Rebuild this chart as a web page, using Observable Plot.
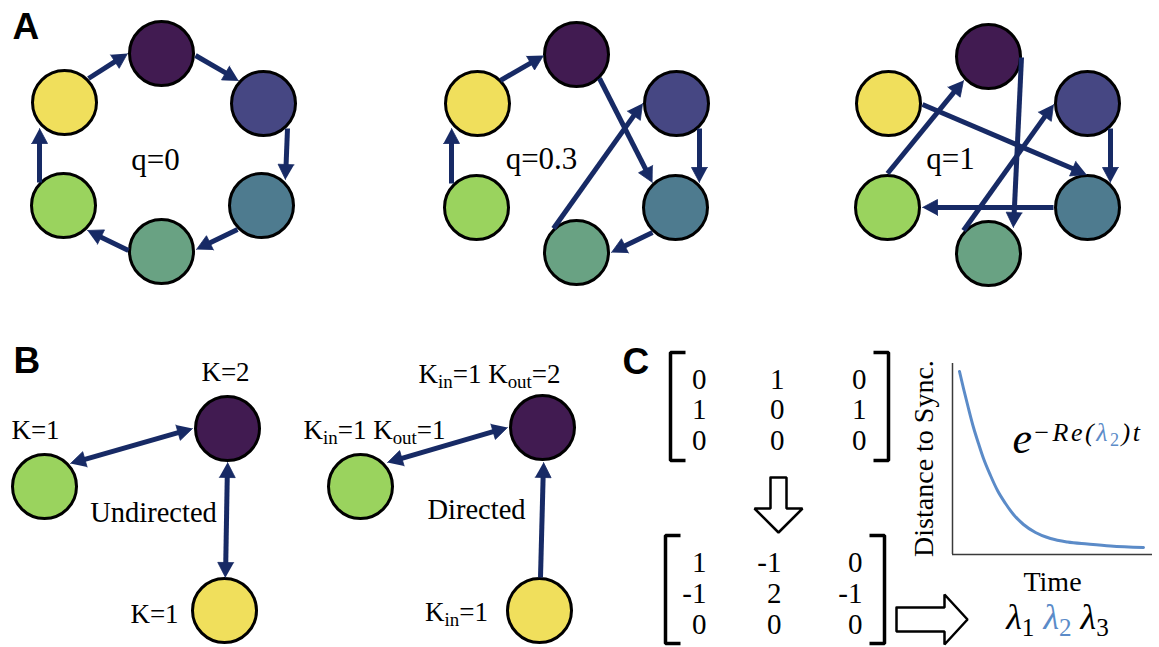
<!DOCTYPE html>
<html>
<head>
<meta charset="utf-8">
<script src="https://cdn.jsdelivr.net/npm/d3@7"></script>
<script src="https://cdn.jsdelivr.net/npm/@observablehq/plot@0.6"></script>
<style>
  html, body { margin: 0; padding: 0; background: #fff; }
  #fig { position: relative; width: 1159px; height: 647px; overflow: hidden; }
  #fig > svg { position: absolute; left: 0; top: 0; }
</style>
</head>
<body>
<div id="fig"></div>
<script>
// ---------- palette ----------
const nodeColors = ["#411b51", "#464783", "#4e7b8f", "#69a283", "#9ad35e", "#f0df5c"];
const linkColor = "#172a65";
const accentBlue = "#5b8bc8";

// ---------- panel A: six-node rings at three rewiring levels ----------
const ringLabels = ["q=0", "q=0.3", "q=1"];
const ringLabelX = [155, 541, 950];
const ringLabelY = [169, 168, 168];
const ringNodeX = [
  [161, 263, 261, 161, 63, 64],
  [576, 676, 675, 576, 476, 477],
  [988, 1087, 1087, 988, 887, 888]
];
const ringNodeY = [
  [53, 103, 205, 251, 205, 102],
  [54, 103, 207, 252, 207, 103],
  [56, 103, 207, 253, 207, 103]
];
// directed links per ring: [from, to, x1, y1, x2, y2] (tail point, tip point)
const ringLinks = [
  [[5, 0, 88, 78, 127, 53], [0, 1, 195, 55, 238, 80], [1, 2, 287, 128, 285, 179],
   [2, 3, 237, 229, 196, 249], [3, 4, 128, 250, 87, 230], [4, 5, 39, 182, 39, 128]],
  [[5, 0, 500, 80, 543, 55], [0, 2, 599, 78, 652, 182], [1, 2, 699, 128, 699, 182],
   [2, 3, 652, 232, 611, 252], [3, 1, 553, 228, 642, 103], [4, 5, 451, 183, 451, 128]],
  [[5, 2, 922, 104, 1086, 174], [4, 0, 887, 173, 963, 80], [0, 3, 1021, 57, 1013, 227],
   [1, 2, 1110, 128, 1110, 182], [2, 4, 1053, 207, 922, 207], [3, 1, 963, 230, 1053, 104]]
];

// ---------- panel B: degree examples ----------
const degreeNodeColor = [4, 0, 5, 4, 0, 5];
const degreeNodeX = [44, 227, 224, 360, 542, 539];
const degreeNodeY = [486, 428, 610, 486, 427, 610];
// [x1, y1, x2, y2, headAtBothEnds]
const degreeLinks = [
  [70, 463, 192, 428, true],
  [227, 462, 225, 577, true],
  [387, 462, 507, 427, true],
  [540, 577, 543, 462, false]
];
const degreeLabels = ["K=1", "K=2", "K=1", "K_{in}=1 K_{out}=2", "K_{in}=1 K_{out}=1", "K_{in}=1"];
const degreeLabelX = [35, 225, 154, 489, 374, 456];
const degreeLabelY = [438, 380, 622, 382, 438, 620];
const graphKinds = ["Undirected", "Directed"];
const graphKindX = [153, 476];
const graphKindY = [521, 518];

// ---------- panel C: adjacency -> Laplacian -> eigenvalues ----------
const adjacency = [[0, 1, 0], [1, 0, 1], [0, 0, 0]];
const laplacian = [[1, -1, 0], [-1, 2, -1], [0, 0, 0]];
const matrixColRight = [[706, 784, 866], [706, 781, 862]];
const matrixRowBase = [[388, 418, 449], [571, 602, 633]];
// bracket frames: [left, right, top, bottom]
const matrixFrames = [[670, 888, 352, 460], [665, 884, 535, 643]];

// decay curve: time vs distance to synchrony
const decayTime = [7, 11, 16, 21, 26, 31, 38, 45, 53, 61, 71, 83, 98, 115, 135, 158, 191];
const decayDist = [183, 166, 146, 127, 111, 96, 79, 64, 51, 40, 30, 22, 16, 12.5, 10.5, 8.5, 7];

const panelLetters = ["A", "B", "C"];
const panelLetterX = [12, 13, 622];
const panelLetterY = [38, 372, 373];

// ---------- derived tables ----------
const nodes = [];
ringNodeX.forEach((xs, p) => xs.forEach((x, i) => nodes.push({x, y: ringNodeY[p][i], color: nodeColors[i]})));
degreeNodeX.forEach((x, i) => nodes.push({x, y: degreeNodeY[i], color: nodeColors[degreeNodeColor[i]]}));

const links = [];
ringLinks.forEach((ring, p) => ring.forEach(([from, to, x1, y1, x2, y2]) =>
  links.push({id: `r${p}-${from}-${to}`, x1, y1, x2, y2, both: false})));
degreeLinks.forEach(([x1, y1, x2, y2, both], i) => links.push({id: `d${i}`, x1, y1, x2, y2, both}));

const headLen = 15, headHalf = 8;
const shafts = [], heads = [];
for (const e of links) {
  const dx = e.x2 - e.x1, dy = e.y2 - e.y1, len = Math.hypot(dx, dy);
  const ux = dx / len, uy = dy / len;
  const tri = (tx, ty, sx, sy, key) => {
    const bx = tx - sx * headLen, by = ty - sy * headLen;
    heads.push({id: key, x: tx, y: ty},
               {id: key, x: bx - sy * headHalf, y: by + sx * headHalf},
               {id: key, x: bx + sy * headHalf, y: by - sx * headHalf});
  };
  tri(e.x2, e.y2, ux, uy, e.id + "-end");
  let sx = e.x1, sy = e.y1;
  if (e.both) {
    tri(e.x1, e.y1, -ux, -uy, e.id + "-start");
    sx += ux * (headLen - 1); sy += uy * (headLen - 1);
  }
  shafts.push({x1: sx, y1: sy, x2: e.x2 - ux * (headLen - 1), y2: e.y2 - uy * (headLen - 1)});
}

const matrixCells = [];
[adjacency, laplacian].forEach((m, k) => m.forEach((row, r) => row.forEach((v, c) =>
  matrixCells.push({text: String(v), x: matrixColRight[k][c], y: matrixRowBase[k][r]}))));

const brackets = [];
matrixFrames.forEach(([l, rt, t, b], k) => {
  const tick = 15;
  brackets.push({id: `L${k}`, x: l + tick, y: t}, {id: `L${k}`, x: l, y: t}, {id: `L${k}`, x: l, y: b}, {id: `L${k}`, x: l + tick, y: b});
  brackets.push({id: `R${k}`, x: rt - tick, y: t}, {id: `R${k}`, x: rt, y: t}, {id: `R${k}`, x: rt, y: b}, {id: `R${k}`, x: rt - tick, y: b});
});

// hollow block arrows (down: matrix -> Laplacian, right: Laplacian -> spectrum)
function blockArrow(id, cx, cy, start, neck, tip, shaftHalf, head, vertical) {
  const pts = [[start, -shaftHalf], [neck, -shaftHalf], [neck, -head], [tip, 0], [neck, head], [neck, shaftHalf], [start, shaftHalf], [start, -shaftHalf]];
  return pts.map(([a, b]) => vertical ? {id, x: cx + b, y: a} : {id, x: a, y: cy + b});
}
const hollowArrows = [
  ...blockArrow("down", 778, 0, 477, 508, 532, 8, 24, true),
  ...blockArrow("right", 0, 619, 896, 944, 967, 12, 25, false)
];

const serif = "Liberation Serif";
const sans = "Liberation Sans";

const main = Plot.plot({
  width: 1159, height: 647, margin: 0,
  x: {domain: [0, 1159], range: [0, 1159], axis: null},
  y: {domain: [0, 647], range: [0, 647], axis: null},
  color: {type: "identity"},
  style: {background: "white", overflow: "visible"},
  marks: [
    Plot.dot(nodes, {x: "x", y: "y", r: 32, fill: "color", stroke: "black", strokeWidth: 3}),
    Plot.link(shafts, {x1: "x1", y1: "y1", x2: "x2", y2: "y2", stroke: linkColor, strokeWidth: 5, strokeLinecap: "butt"}),
    Plot.line(heads, {x: "x", y: "y", z: "id", fill: linkColor, stroke: linkColor, strokeWidth: 0.8, strokeLinejoin: "miter"}),
    Plot.text(panelLetters, {x: (d, i) => panelLetterX[i], y: (d, i) => panelLetterY[i], text: d => d, textAnchor: "start", lineAnchor: "bottom",
      fontFamily: sans, fontWeight: "bold", fontSize: 37, fill: "black"}),
    Plot.text(ringLabels, {x: (d, i) => ringLabelX[i], y: (d, i) => ringLabelY[i], text: d => d, lineAnchor: "bottom",
      fontFamily: serif, fontSize: 31, fill: "black"}),
    Plot.text(degreeLabels, {x: (d, i) => degreeLabelX[i], y: (d, i) => degreeLabelY[i], text: d => d, lineAnchor: "bottom",
      fontFamily: serif, fontSize: 27, fill: "black"}),
    Plot.text(graphKinds, {x: (d, i) => graphKindX[i], y: (d, i) => graphKindY[i], text: d => d, lineAnchor: "bottom",
      fontFamily: serif, fontSize: 28.5, fill: "black"}),
    Plot.text(matrixCells, {x: "x", y: "y", text: "text", textAnchor: "end", lineAnchor: "bottom",
      fontFamily: serif, fontSize: 29, fill: "black"}),
    Plot.line(brackets, {x: "x", y: "y", z: "id", stroke: "black", strokeWidth: 3.5, strokeLinejoin: "miter", strokeLinecap: "butt"}),
    Plot.line(hollowArrows, {x: "x", y: "y", z: "id", fill: "white", stroke: "black", strokeWidth: 2.5, strokeLinejoin: "miter"}),
    Plot.text(["Distance to Sync."], {x: 932, y: 458, text: d => d, rotate: -90, lineAnchor: "bottom",
      fontFamily: serif, fontSize: 28, fill: "black"}),
    Plot.text(["Time"], {x: 1052, y: 590, text: d => d, lineAnchor: "bottom", fontFamily: serif, fontSize: 28, fill: "black"}),
    Plot.text(["e"], {x: 1012, y: 452, text: d => d, textAnchor: "start", lineAnchor: "bottom",
      fontFamily: serif, fontStyle: "italic", fontSize: 44, fill: "black"}),
    Plot.text(["−Re([λ_{2}])t"], {x: 1032, y: 440, text: d => d, textAnchor: "start", lineAnchor: "bottom",
      fontFamily: serif, fontStyle: "italic", fontSize: 26, fill: "black"}),
    Plot.text(["λ_{1} [λ_{2}] λ_{3}"], {x: 1057, y: 628, text: d => d, lineAnchor: "bottom",
      fontFamily: serif, fontStyle: "italic", fontSize: 36, fill: "black"})
  ]
});

const inset = Plot.plot({
  width: 204, height: 195, margin: 2,
  x: {domain: [0, 200], axis: null},
  y: {domain: [0, 191], axis: null},
  style: {background: "transparent", overflow: "visible"},
  marks: [
    Plot.ruleX([0], {stroke: "#3a3a3a", strokeWidth: 1.5}),
    Plot.ruleY([0], {stroke: "#3a3a3a", strokeWidth: 1.5}),
    Plot.line(decayTime.map((t, i) => ({t, d: decayDist[i]})), {x: "t", y: "d", curve: "monotone-x", stroke: accentBlue, strokeWidth: 3})
  ]
});

const fig = document.getElementById("fig");
fig.appendChild(main);
inset.style.position = "absolute";
inset.style.left = "950px";
inset.style.top = "361px";
fig.appendChild(inset);

// Turn "_{..}" into subscripts and "[..]" into accent-coloured spans.
d3.select(main).selectAll("text").each(function () {
  const raw = this.textContent;
  if (!/[_\[]/.test(raw)) return;
  const segs = [];
  let blue = false, sub = false, buf = "";
  const push = () => { if (buf) segs.push({t: buf, blue, sub}); buf = ""; };
  for (let i = 0; i < raw.length; i++) {
    const c = raw[i];
    if (c === "[") { push(); blue = true; }
    else if (c === "]") { push(); blue = false; }
    else if (c === "_" && raw[i + 1] === "{") { push(); sub = true; i++; }
    else if (c === "}" && sub) { push(); sub = false; }
    else buf += c;
  }
  push();
  const fs = parseFloat(getComputedStyle(this).fontSize) || 28;
  const el = d3.select(this);
  el.text(null);
  let down = false;
  for (const s of segs) {
    const ts = el.append("tspan").text(s.t);
    if (s.sub && !down) { ts.attr("dy", (0.22 * fs).toFixed(1)); down = true; }
    else if (!s.sub && down) { ts.attr("dy", (-0.22 * fs).toFixed(1)); down = false; }
    if (s.sub) ts.attr("font-size", (0.7 * fs).toFixed(1)).attr("font-style", raw.startsWith("K") ? null : "normal");
    if (s.blue) ts.attr("fill", accentBlue);
  }
  if (raw.startsWith("−Re")) el.attr("letter-spacing", 2.5);
});
</script>
</body>
</html>
